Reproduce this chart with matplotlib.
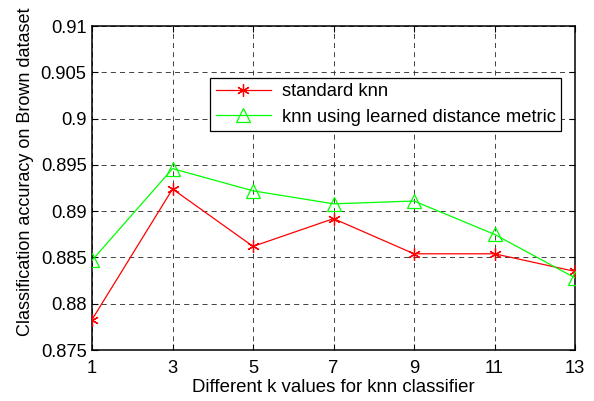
import matplotlib

matplotlib.use("Agg")
import matplotlib.pyplot as plt

plt.rcParams["font.family"] = ["Liberation Sans", "DejaVu Sans"]

k_values = [1, 3, 5, 7, 9, 11, 13]
standard_knn = [0.8783, 0.8924, 0.8862, 0.8892, 0.8854, 0.8854, 0.8835]
learned_knn = [0.8847, 0.8946, 0.8922, 0.8908, 0.8911, 0.8875, 0.8828]
y_ticks = [0.875, 0.88, 0.885, 0.89, 0.895, 0.9, 0.905, 0.91]
y_tick_labels = ["0.875", "0.88", "0.885", "0.89", "0.895", "0.9", "0.905", "0.91"]

fig = plt.figure(figsize=(5.94, 4.01), dpi=100)
ax = fig.add_axes([0.155, 0.127, 0.813, 0.808])

ax.plot(k_values, standard_knn, color="#ff0000", linewidth=0.9,
        marker=(6, 2, 0), markersize=9, markeredgewidth=0.9,
        label="standard knn", zorder=3)
ax.plot(k_values, learned_knn, color="#00ff00", linewidth=0.9,
        marker="^", markersize=10, markerfacecolor="none",
        markeredgewidth=0.9, label="knn using learned distance metric",
        zorder=3)

ax.set_xlim(1, 13)
ax.set_ylim(0.875, 0.91)
ax.set_xticks(k_values)
ax.set_yticks(y_ticks)
ax.set_yticklabels(y_tick_labels)
ax.tick_params(direction="in", top=True, right=True, length=4,
               width=0.8, labelsize=13.2)
ax.tick_params(axis="x", pad=7)
ax.tick_params(axis="y", pad=4)
ax.grid(True, color="#222222", linestyle=(0, (6, 5)), linewidth=0.6)
for s in ax.spines.values():
    s.set_linewidth(1.1)

ax.set_xlabel("Different k values for knn classifier", fontsize=13.4)
ax.set_ylabel("Classification accuracy on Brown dataset", fontsize=13.0)
ax.xaxis.set_label_coords(0.5, -0.09)
ax.yaxis.set_label_coords(-0.12, 0.55)

leg = ax.legend(loc="upper left", bbox_to_anchor=(0.245, 0.84),
                fontsize=13.2, fancybox=False, framealpha=1,
                edgecolor="black", borderpad=0.3, labelspacing=0.45,
                handlelength=3.0, handletextpad=0.6, borderaxespad=0)
leg.get_frame().set_linewidth(0.9)

fig.savefig("out.png", dpi=100)
